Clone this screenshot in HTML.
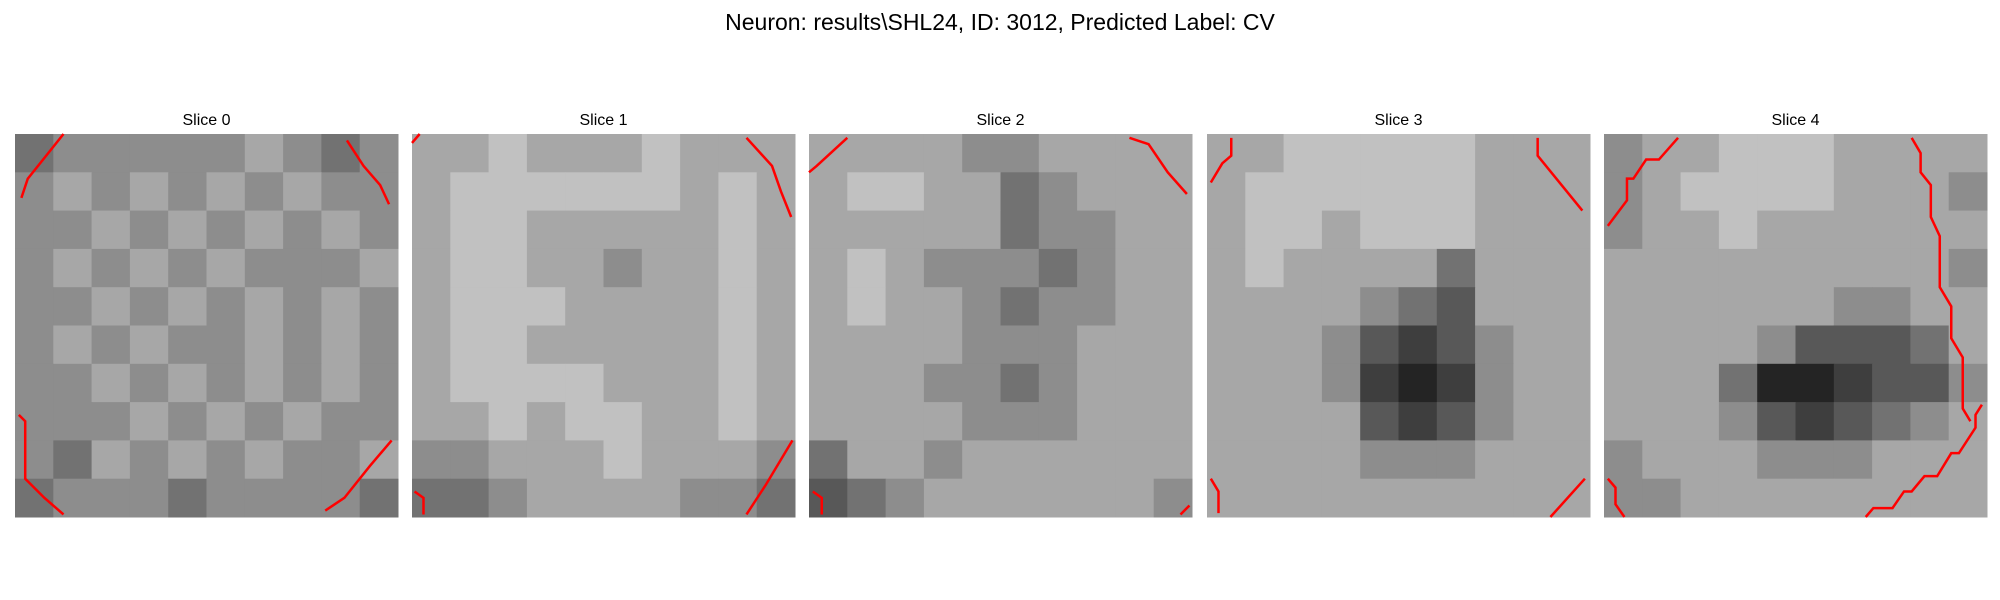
<!DOCTYPE html>
<html><head><meta charset="utf-8"><style>
html,body{margin:0;padding:0;background:#fff;width:2000px;height:600px;overflow:hidden}
svg{display:block}
</style></head><body>
<svg id="fig" width="2000" height="600" xmlns="http://www.w3.org/2000/svg">
<text x="1000" y="30" text-anchor="middle" font-family="Liberation Sans, sans-serif" font-size="23" fill="#000">Neuron: results\SHL24, ID: 3012, Predicted Label: CV</text>
</svg>
<script>
// coarse 10x10 gray levels per slice (0=black, 9=white)
const slice0 = ["4555556545","5656565655","5565656565","5656565556","5565656565","5656556565","5565656565","5556565655","5465656556","4555455554"];
const slice1 = ["6676667666","6777777676","6776666676","6776656676","6777666676","6776666676","6777766676","6676776676","5566676665","4456666554"];
const slice2 = ["6666556666","6776645666","6666645566","6765554566","6766545566","6666555666","6665545666","6666555666","4665666666","3456666665"];
const slice3 = ["6677777666","6777777666","6776777666","6766664666","6666543666","6665323566","6665212566","6666323566","6666555666","6666666666"];
const slice4 = ["5667776666","5677776665","5667666666","6666666665","6666665566","6666533346","6664112335","6665323456","5666555666","5566666666"];
const slices = [slice0, slice1, slice2, slice3, slice4];
const sliceTitles = ["Slice 0","Slice 1","Slice 2","Slice 3","Slice 4"];
// red contour polylines in image-pixel units (0-30)
const contours0 = [[[3.8,0],[1,3.5],[0.5,5]],[[26,0.5],[27.3,2.5],[28.6,4],[29.3,5.5]],[[0.3,22],[0.8,22.5],[0.8,27],[2.3,28.5],[3.8,29.8]],[[29.5,24],[27.8,26],[25.8,28.5],[24.3,29.5]]];
const contours1 = [[[0,0.7],[0.6,0]],[[26.2,0.3],[28.2,2.5],[28.9,4.5],[29.7,6.5]],[[29.8,24],[27.7,27.5],[26.2,29.8]],[[0.2,28],[0.9,28.5],[0.9,29.8]]];
const contours2 = [[[3,0.3],[0.6,2.5],[0,3]],[[25.1,0.3],[26.6,0.8],[28.1,3],[29.6,4.7]],[[0.3,28],[1,28.5],[1,29.8]],[[29.1,29.8],[29.8,29.1]]];
const contours3 = [[[1.9,0.3],[1.9,1.7],[1.2,2.3],[0.3,3.8]],[[25.9,0.3],[25.9,1.7],[29.4,6]],[[0.3,27],[0.9,28],[0.9,29.7]],[[29.6,27],[26.9,30]]];
const contours4 = [[[5.8,0.3],[4.3,2],[3.3,2],[2.3,3.5],[1.8,3.5],[1.8,5.2],[0.3,7.2]],[[24.1,0.3],[24.8,1.5],[24.8,3],[25.6,4],[25.6,6.5],[26.3,8],[26.3,12],[27.2,13.5],[27.2,16],[28.1,17.5],[28.1,21.5],[28.7,22.5]],[[29.6,29.8-8.6],[29.1,22],[29.1,23],[27.8,25],[27.2,25],[26.1,26.8],[25.1,26.8],[24.1,28],[23.5,28],[22.6,29.3],[21.1,29.3],[20.5,30]],[[0.3,27],[0.9,27.7],[0.9,29],[1.6,30]]];
const contours = [contours0, contours1, contours2, contours3, contours4];

const svg = document.getElementById('fig');
const NS = 'http://www.w3.org/2000/svg';
const panelX = [15, 412, 809, 1207, 1604];
const panelY = 134, panelSize = 383;
function xScale(p, v){ return panelX[p] + v / 30 * panelSize; }
function yScale(v){ return panelY + v / 30 * panelSize; }
slices.forEach((grid, p) => {
  const g = document.createElementNS(NS, 'g');
  
  
  svg.appendChild(g);
  const t = document.createElementNS(NS, 'text');
  
  
  t.setAttribute('x', panelX[p] + panelSize / 2);
  t.setAttribute('y', 125);
  t.setAttribute('text-anchor', 'middle');
  t.setAttribute('font-family', 'Liberation Sans, sans-serif');
  t.setAttribute('font-size', '16');
  t.textContent = sliceTitles[p];
  g.appendChild(t);
  const n = grid.length;
  grid.forEach((row, r) => {
    for (let c = 0; c < row.length; c++) {
      const v = +row[c];
      const gray = Math.round(v / 9 * 235 + 10);
      const rect = document.createElementNS(NS, 'rect');
      
      
      const x0 = xScale(p, c * 30 / row.length), x1 = xScale(p, (c + 1) * 30 / row.length);
      const y0 = yScale(r * 30 / n), y1 = yScale((r + 1) * 30 / n);
      rect.setAttribute('x', x0); rect.setAttribute('y', y0);
      rect.setAttribute('width', x1 - x0 + 0.5); rect.setAttribute('height', y1 - y0 + 0.5);
      rect.setAttribute('fill', `rgb(${gray},${gray},${gray})`);
      g.appendChild(rect);
    }
  });
  contours[p].forEach(line => {
    const pl = document.createElementNS(NS, 'polyline');
    
    
    pl.setAttribute('points', line.map(pt => xScale(p, pt[0]) + ',' + yScale(pt[1])).join(' '));
    pl.setAttribute('fill', 'none');
    pl.setAttribute('stroke', '#ff0000');
    pl.setAttribute('stroke-width', '2.5');
    g.appendChild(pl);
  });
});
</script>
</body></html>
